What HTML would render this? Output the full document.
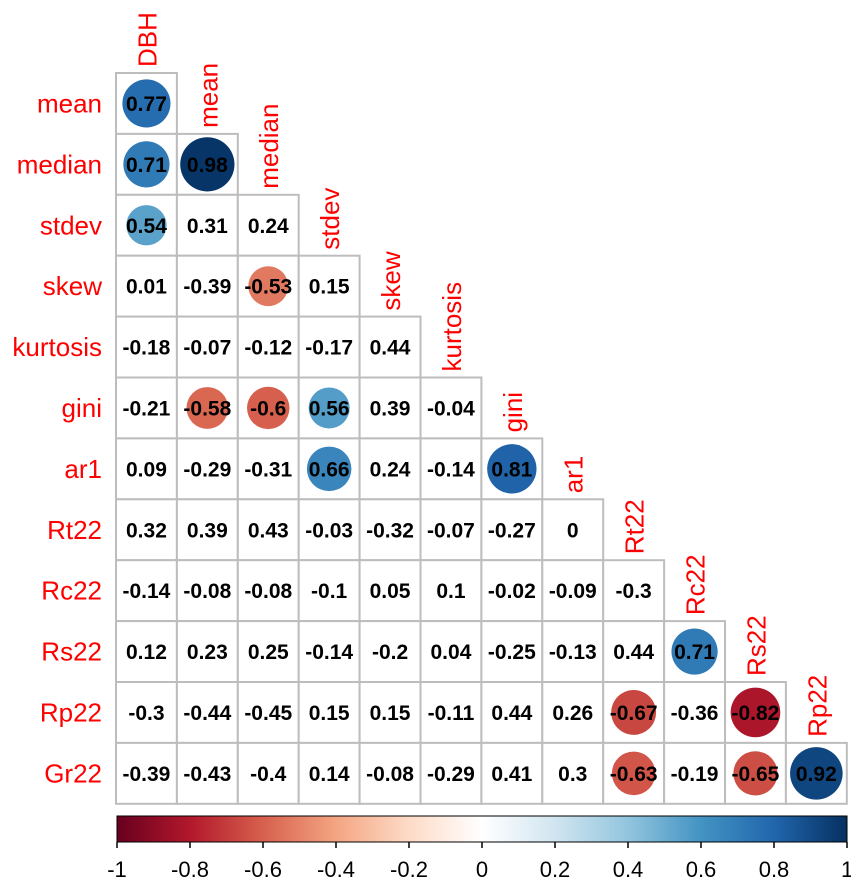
<!DOCTYPE html>
<html><head><meta charset="utf-8"><style>
body{margin:0;background:#fff}
svg{display:block}
text{font-family:"Liberation Sans",Arial,sans-serif}
</style></head><body>
<svg id="chart" width="851" height="884" viewBox="0 0 851 884"></svg>
<script>
const colLabels=["DBH","mean","median","stdev","skew","kurtosis","gini","ar1","Rt22","Rc22","Rs22","Rp22"];
const rowLabels=["mean","median","stdev","skew","kurtosis","gini","ar1","Rt22","Rc22","Rs22","Rp22","Gr22"];
const corrValues=[
[0.77],
[0.71,0.98],
[0.54,0.31,0.24],
[0.01,-0.39,-0.53,0.15],
[-0.18,-0.07,-0.12,-0.17,0.44],
[-0.21,-0.58,-0.6,0.56,0.39,-0.04],
[0.09,-0.29,-0.31,0.66,0.24,-0.14,0.81],
[0.32,0.39,0.43,-0.03,-0.32,-0.07,-0.27,0],
[-0.14,-0.08,-0.08,-0.1,0.05,0.1,-0.02,-0.09,-0.3],
[0.12,0.23,0.25,-0.14,-0.2,0.04,-0.25,-0.13,0.44,0.71],
[-0.3,-0.44,-0.45,0.15,0.15,-0.11,0.44,0.26,-0.67,-0.36,-0.82],
[-0.39,-0.43,-0.4,0.14,-0.08,-0.29,0.41,0.3,-0.63,-0.19,-0.65,0.92]
];
const scaleTicks=[-1,-0.8,-0.6,-0.4,-0.2,0,0.2,0.4,0.6,0.8,1];
const palette=["#67001F","#B2182B","#D6604D","#F4A582","#FDDBC7","#FFFFFF","#D1E5F0","#92C5DE","#4393C3","#2166AC","#053061"];

const NS="http://www.w3.org/2000/svg";
const svg=document.getElementById('chart');
const L=116,T=73,C=60.9;
function mk(t,a,p){const e=document.createElementNS(NS,t);for(const k in a)e.setAttribute(k,a[k]);(p||svg).appendChild(e);return e;}
function hex(h){return [1,3,5].map(i=>parseInt(h.substr(i,2),16));}
function color(v){const p=(v+1)/2*(palette.length-1);const i=Math.min(Math.floor(p),palette.length-2);const f=p-i;
const a=hex(palette[i]),b=hex(palette[i+1]);return "rgb("+a.map((x,j)=>Math.round(x+(b[j]-x)*f)).join(",")+")";}
const xCell=j=>L+j*C, yCell=i=>T+i*C;
const sx=v=>117+(v+1)/2*(847-117);

for(let i=0;i<rowLabels.length;i++){
  const t=mk('text',{x:102,y:yCell(i)+C/2+9,'text-anchor':'end','font-size':26,fill:'#f00'});
  t.textContent=rowLabels[i];
  
  
  for(let j=0;j<corrValues[i].length;j++){
    const v=corrValues[i][j];
    const g=mk('g',{});
    
    
    mk('rect',{x:xCell(j),y:yCell(i),width:C,height:C,fill:'#fff',stroke:'#bdbdbd','stroke-width':2},g);
    if(Math.abs(v)>=0.5){
      const c=mk('circle',{cx:xCell(j)+C/2,cy:yCell(i)+C/2,r:0.45*C*Math.sqrt(Math.abs(v)),fill:color(v)},g);
      
      
    }
    const n=mk('text',{x:xCell(j)+C/2,y:yCell(i)+C/2+7.5,'text-anchor':'middle','font-size':21,'font-weight':'bold',fill:'#000'},g);
    n.textContent=String(v);
  }
}
for(let j=0;j<colLabels.length;j++){
  const x=xCell(j)+C/2+10, y=yCell(j)-6;
  const t=mk('text',{x:x,y:y,transform:'rotate(-90 '+x+' '+y+')','font-size':26,fill:'#f00'});
  t.textContent=colLabels[j];
  
  
}
const defs=mk('defs',{});
const grad=mk('linearGradient',{id:'cb',x1:0,x2:1,y1:0,y2:0},defs);
palette.forEach((c,k)=>mk('stop',{offset:(k/(palette.length-1)),'stop-color':c},grad));
const bar=mk('rect',{x:117,y:816,width:730,height:26,fill:'url(#cb)',stroke:'#000','stroke-width':1});


scaleTicks.forEach(v=>{
  mk('line',{x1:sx(v),x2:sx(v),y1:842,y2:848,stroke:'#000','stroke-width':1.5});
  const t=mk('text',{x:sx(v),y:877,'text-anchor':v===1?'start':'middle','font-size':22,fill:'#000'});
  if(v===1)t.setAttribute('x',sx(v)-6);
  t.textContent=String(v);
  
  
});
</script>
</body></html>
